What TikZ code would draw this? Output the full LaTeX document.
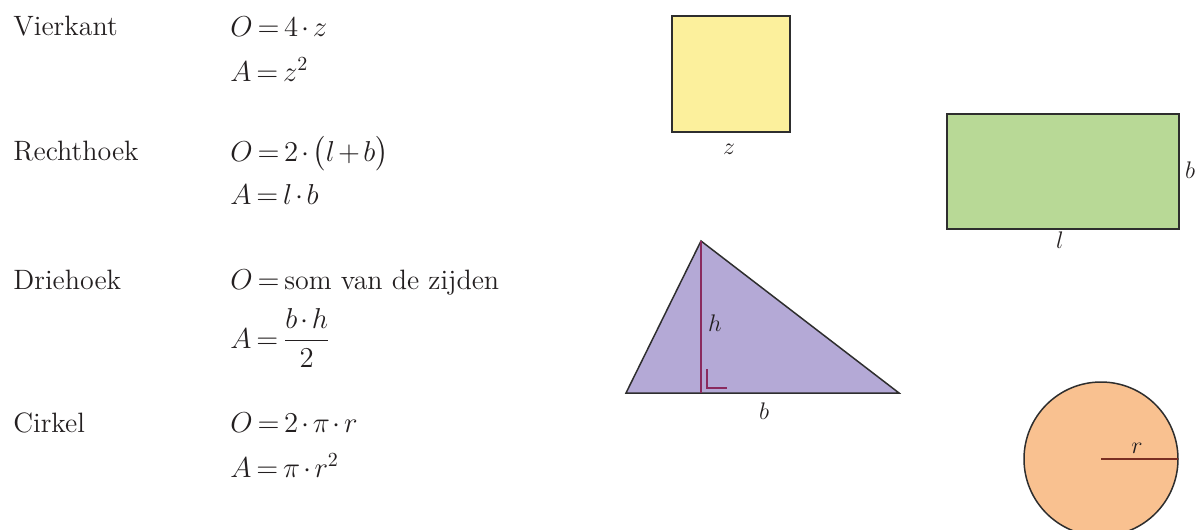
\documentclass[tikz,border=0pt]{standalone}
\usepackage{amsmath}
\definecolor{txt}{HTML}{231F20}
\definecolor{edge}{HTML}{2E2E2E}
\definecolor{sqfill}{HTML}{FCF09C}
\definecolor{rcfill}{HTML}{B8D996}
\definecolor{trfill}{HTML}{B4A9D6}
\definecolor{cifill}{HTML}{F9C190}
\definecolor{alt}{HTML}{8A2A5E}
\definecolor{rad}{HTML}{7A2E22}
\tikzset{
  lbl/.style={inner sep=0pt, text=txt, font=\fontsize{14}{16}\selectfont},
  frm/.style={inner sep=0pt, text=txt, font=\fontsize{14}{16}\selectfont},
  shlbl/.style={inner sep=0pt, text=txt, font=\fontsize{11.5}{13}\selectfont},
  figline/.style={draw=edge, line width=0.75pt, line join=miter}
}
\begin{document}
\begin{tikzpicture}[x=0.5pt,y=-0.5pt]
\useasboundingbox (0,0) rectangle (1196,530);
\clip (0,0) rectangle (1196,530);
\thickmuskip=3mu \medmuskip=2mu
% left column
\node[lbl, anchor=base west] (vk) at (13,35) {Vierkant};
\node[frm, anchor=base west] (vkO) at (230,37) {$O=4\cdot z$};
\node[frm, anchor=base west] (vkA) at (230,81) {$A=z^2$};
\node[lbl, anchor=base west] (rh) at (13,160) {Rechthoek};
\node[frm, anchor=base west] (rhO) at (230,161) {$O=2\cdot\bigl(l+b\bigr)$};
\node[frm, anchor=base west] (rhA) at (230,204) {$A=l\cdot b$};
\node[lbl, anchor=base west] (dh) at (13,289) {Driehoek};
\node[frm, anchor=base west] (dhO) at (230,289) {$O=\text{som van de zijden}$};
\node[frm, anchor=base west] (dhA) at (230,348) {$A=\dfrac{b\cdot h}{2}$};
\node[lbl, anchor=base west] (ck) at (13,432) {Cirkel};
\node[frm, anchor=base west] (ckO) at (230,432) {$O=2\cdot\pi\cdot r$};
\node[frm, anchor=base west] (ckA) at (230,477) {$A=\pi\cdot r^2$};
% square
\draw[figline, fill=sqfill] (672,16) rectangle (790,132);
\node[shlbl, anchor=base] (sqz) at (729,154) {$z$};
% rectangle
\draw[figline, fill=rcfill] (947,114) rectangle (1179,229);
\node[shlbl, anchor=base] (rcb) at (1190,178) {$b$};
\node[shlbl, anchor=base] (rcl) at (1060,248) {$l$};
% triangle
\coordinate (tA) at (626,393);
\coordinate (tC) at (701,241);
\coordinate (tB) at (899,393);
\coordinate (tF) at (701,393);
\draw[figline, fill=trfill] (tA) -- (tC) -- (tB) -- cycle;
\draw[alt, line width=0.65pt] (tC) -- (tF);
\draw[alt, line width=0.65pt] (707,369) -- (707,388) -- (727,388);
\node[shlbl, anchor=base] (trh) at (715,331) {$h$};
\node[shlbl, anchor=base] (trb) at (764,419) {$b$};
% circle
\coordinate (cc) at (1101,459);
\coordinate (ce) at (1178,459);
\draw[figline, fill=cifill] (cc) circle[radius=77];
\draw[rad, line width=0.65pt] (cc) -- (ce);
\node[shlbl, anchor=base] (cr) at (1137,453) {$r$};
\end{tikzpicture}
\end{document}
